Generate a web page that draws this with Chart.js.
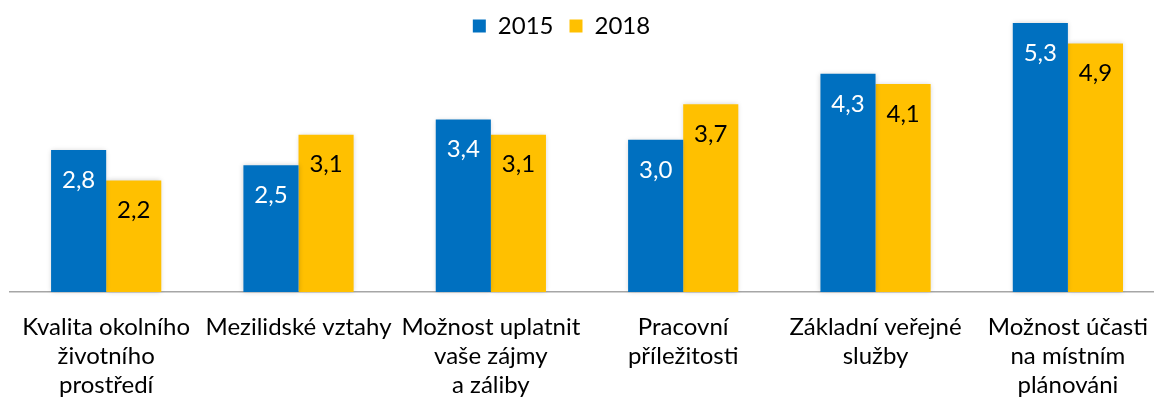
<!DOCTYPE html>
<html>
<head>
<meta charset="utf-8">
<script src="https://cdn.jsdelivr.net/npm/chart.js@4/dist/chart.umd.min.js"></script>
<style>
  html, body { margin:0; padding:0; background:#fff; overflow:hidden; }
  #wrap { width:1169px; height:403px; }
</style>
</head>
<body>
<div id="wrap"><canvas id="c" width="1169" height="403"></canvas></div>
<script>
const categories = [
  ["Kvalita okolního", "životního", "prostředí"],
  ["Mezilidské vztahy"],
  ["Možnost uplatnit", "vaše zájmy", "a záliby"],
  ["Pracovní", "příležitosti"],
  ["Základní veřejné", "služby"],
  ["Možnost účasti", "na místním", "plánováni"]
];
const seriesNames = ["2015", "2018"];
const values2015 = [2.8, 2.5, 3.4, 3.0, 4.3, 5.3];
const values2018 = [2.2, 3.1, 3.1, 3.7, 4.1, 4.9];

const FONT = "Lato, 'Open Sans', sans-serif";

const shadowPlugin = {
  id: 'barShadow',
  beforeDatasetsDraw(chart) {
    const ctx = chart.ctx;
    ctx.save();
    ctx.shadowColor = 'rgba(0,0,0,0.18)';
    ctx.shadowBlur = 5;
    ctx.shadowOffsetX = 0;
    ctx.shadowOffsetY = 0;
  },
  afterDatasetsDraw(chart) {
    chart.ctx.restore();
  }
};

const legendShift = {
  id: 'legendShift',
  afterLayout(chart) {
    const lg = chart.legend;
    if (lg) {
      lg.left -= 28; lg.right -= 28;
      lg.top -= 2; lg.bottom -= 2;
    }
  }
};

const labelPlugin = {
  id: 'valueLabels',
  afterDatasetsDraw(chart) {
    const ctx = chart.ctx;
    ctx.save();
    ctx.font = "24px " + FONT;
    ctx.textAlign = 'center';
    ctx.textBaseline = 'middle';
    chart.data.datasets.forEach((ds, di) => {
      const meta = chart.getDatasetMeta(di);
      meta.data.forEach((bar, i) => {
        ctx.fillStyle = di === 0 ? '#ffffff' : '#000000';
        const txt = ds.data[i].toFixed(1).replace('.', ',');
        ctx.fillText(txt, bar.x, bar.y + 30);
      });
    });
    ctx.restore();
  }
};

new Chart(document.getElementById('c'), {
  type: 'bar',
  data: {
    labels: categories,
    datasets: [
      { label: seriesNames[0], data: values2015, backgroundColor: '#0070C0', clip: false },
      { label: seriesNames[1], data: values2018, backgroundColor: '#FFC000', clip: false }
    ]
  },
  options: {
    responsive: false,
    animation: false,
    devicePixelRatio: 1,
    layout: { padding: { left: 10, right: 0, top: 0, bottom: 3 } },
    datasets: { bar: { categoryPercentage: 0.573, barPercentage: 1.0 } },
    plugins: {
      legend: {
        display: true,
        position: 'top',
        labels: {
          font: { family: FONT, size: 24 },
          color: '#000',
          boxWidth: 13,
          boxHeight: 13,
          padding: 16
        }
      },
      tooltip: { enabled: false }
    },
    scales: {
      x: {
        grid: { display: false, drawTicks: false },
        border: { display: true, color: '#A6A6A6', width: 1.5 },
        ticks: {
          font: { family: FONT, size: 24, lineHeight: 1.21 },
          color: '#000',
          padding: 21,
          maxRotation: 0,
          autoSkip: false
        },
        afterFit(scale) { scale.height = 108; }
      },
      y: {
        display: false,
        min: 0,
        max: 4.77
      }
    }
  },
  plugins: [shadowPlugin, labelPlugin, legendShift]
});
</script>
</body>
</html>
